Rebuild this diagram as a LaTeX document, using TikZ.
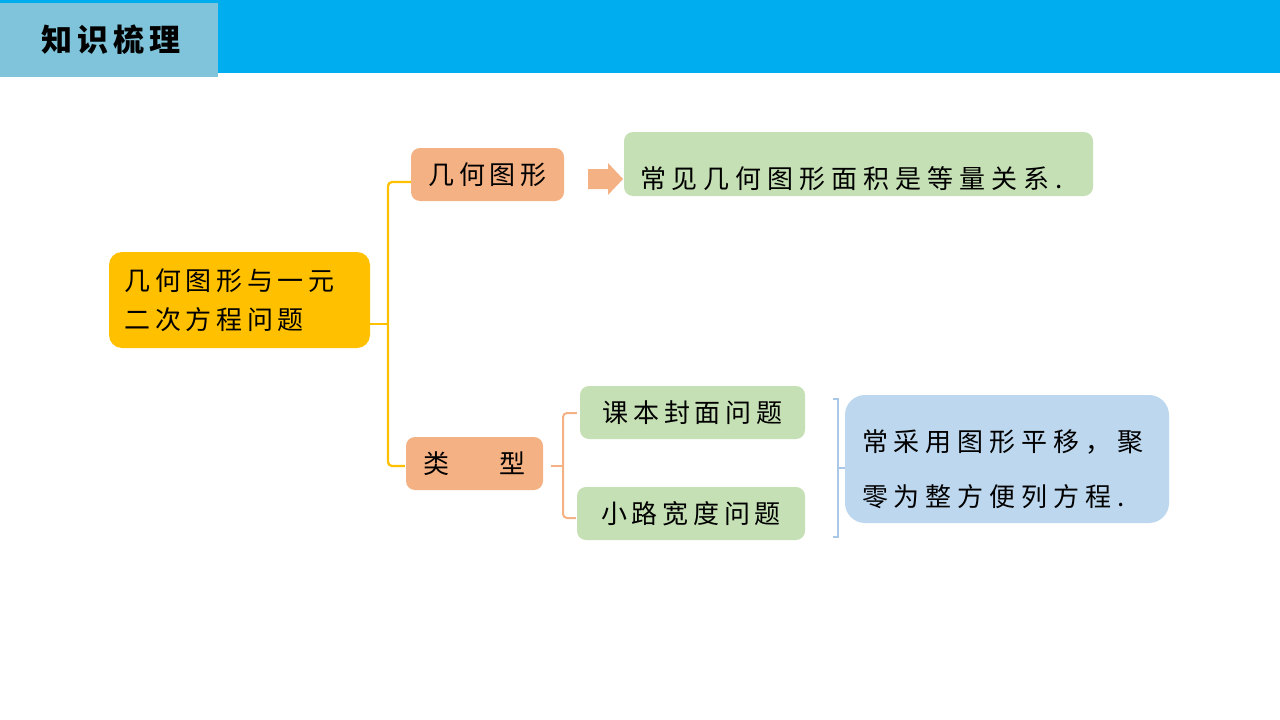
\documentclass[tikz,border=0pt]{standalone}
\usepackage{fontspec}
\newfontfamily\cjk[LetterSpace=18]{Noto Sans CJK SC}
\newfontfamily\cjkwide[LetterSpace=23]{Noto Sans CJK SC}
\newfontfamily\cjktitle[LetterSpace=16]{Noto Sans CJK SC}
\definecolor{barblue}{HTML}{00ADEF}
\definecolor{titlebox}{HTML}{7FC4DA}
\definecolor{myyellow}{HTML}{FFC000}
\definecolor{myorange}{HTML}{F4B183}
\definecolor{mygreen}{HTML}{C5E0B4}
\definecolor{myblue}{HTML}{BDD7EE}
\definecolor{brblue}{HTML}{A9C8E8}
\begin{document}
\begin{tikzpicture}[x=1pt,y=-1pt,
  box/.style={rounded corners=9pt, inner sep=0pt, font=\cjk\fontsize{26}{39}\selectfont, text=black},
  ybox/.style={box, fill=myyellow, rounded corners=13pt},
  obox/.style={box, fill=myorange},
  gbox/.style={box, fill=mygreen},
  bbox/.style={box, fill=myblue, rounded corners=20pt},
  ybr/.style={draw=myyellow, line width=2.2pt, rounded corners=4pt},
  obr/.style={draw=myorange, line width=2pt, rounded corners=4pt},
  bbr/.style={draw=brblue, line width=1.4pt},
]
\useasboundingbox (0,0) rectangle (1280,720);
\fill[white] (0,0) rectangle (1280,720);
% top bar
\fill[barblue] (0,0) rectangle (1280,73);
\node[fill=titlebox, minimum width=218pt, minimum height=74pt, inner sep=0pt,
      font=\cjktitle\bfseries\fontsize{31}{36}\selectfont] (title) at (109,40) {\hspace{4pt}知识梳理};
% main node
\node[ybox, minimum width=261pt, minimum height=96pt, text width=230pt, align=left] (m) at (239.5,300) {几何图形与一元\\二次方程问题};
% level 1
\node[obox, minimum width=153pt, minimum height=53pt] (g) at (487.5,174.5) {几何图形};
\node[obox, minimum width=137pt, minimum height=53pt] (t) at (474.5,463.5) {类\hspace{50pt}型};
% right of g
\node[gbox, minimum width=469pt, minimum height=64pt, text width=437pt, align=left,
      font=\cjkwide\fontsize{26}{39}\selectfont] (r1) at (858.5,164) {\raisebox{-24pt}[0pt][0pt]{常见几何图形面积是等量关系.}};
% arrow
\fill[myorange] (588,169) -- (608,169) -- (608,163) -- (623,179) -- (608,195) -- (608,189) -- (588,189) -- cycle;
% level 2
\node[gbox, minimum width=225pt, minimum height=53pt] (k1) at (692.5,412.5) {课本封面问题};
\node[gbox, minimum width=228pt, minimum height=53pt] (k2) at (691,513.5) {小路宽度问题};
% blue box
\node[bbox, minimum width=324pt, minimum height=128pt, text width=290pt, align=left,
      font=\cjkwide\fontsize{26}{55}\selectfont] (b) at (1007,459)
  {\raisebox{8pt}[0pt][0pt]{\parbox[t]{300pt}{\cjkwide\fontsize{26}{55}\selectfont 常采用图形平移，聚\\零为整方便列方程.}}};
% yellow bracket
\coordinate (yj) at (388,324);
\draw[ybr] ([yshift=-24pt]m.east) -- (yj);
\draw[ybr] ([yshift=-7.5pt]g.west) -| (yj) |- ([xshift=-1pt,yshift=-2.5pt]t.west);
% orange bracket
\coordinate (oj) at (563,466);
\draw[obr] ([xshift=8pt,yshift=-2.5pt]t.east) -- (oj);
\draw[obr] ([xshift=-3pt,yshift=-0.5pt]k1.west) -| (oj) |- ([xshift=-1pt,yshift=-4.5pt]k2.west);
% blue bracket
\coordinate (bj) at (838,468);
\draw[bbr] (833,399) -- (838,399) -- (838,537) -- (833,537);
\draw[bbr] (bj) -- ([yshift=-9pt]b.west);
\end{tikzpicture}
\end{document}
